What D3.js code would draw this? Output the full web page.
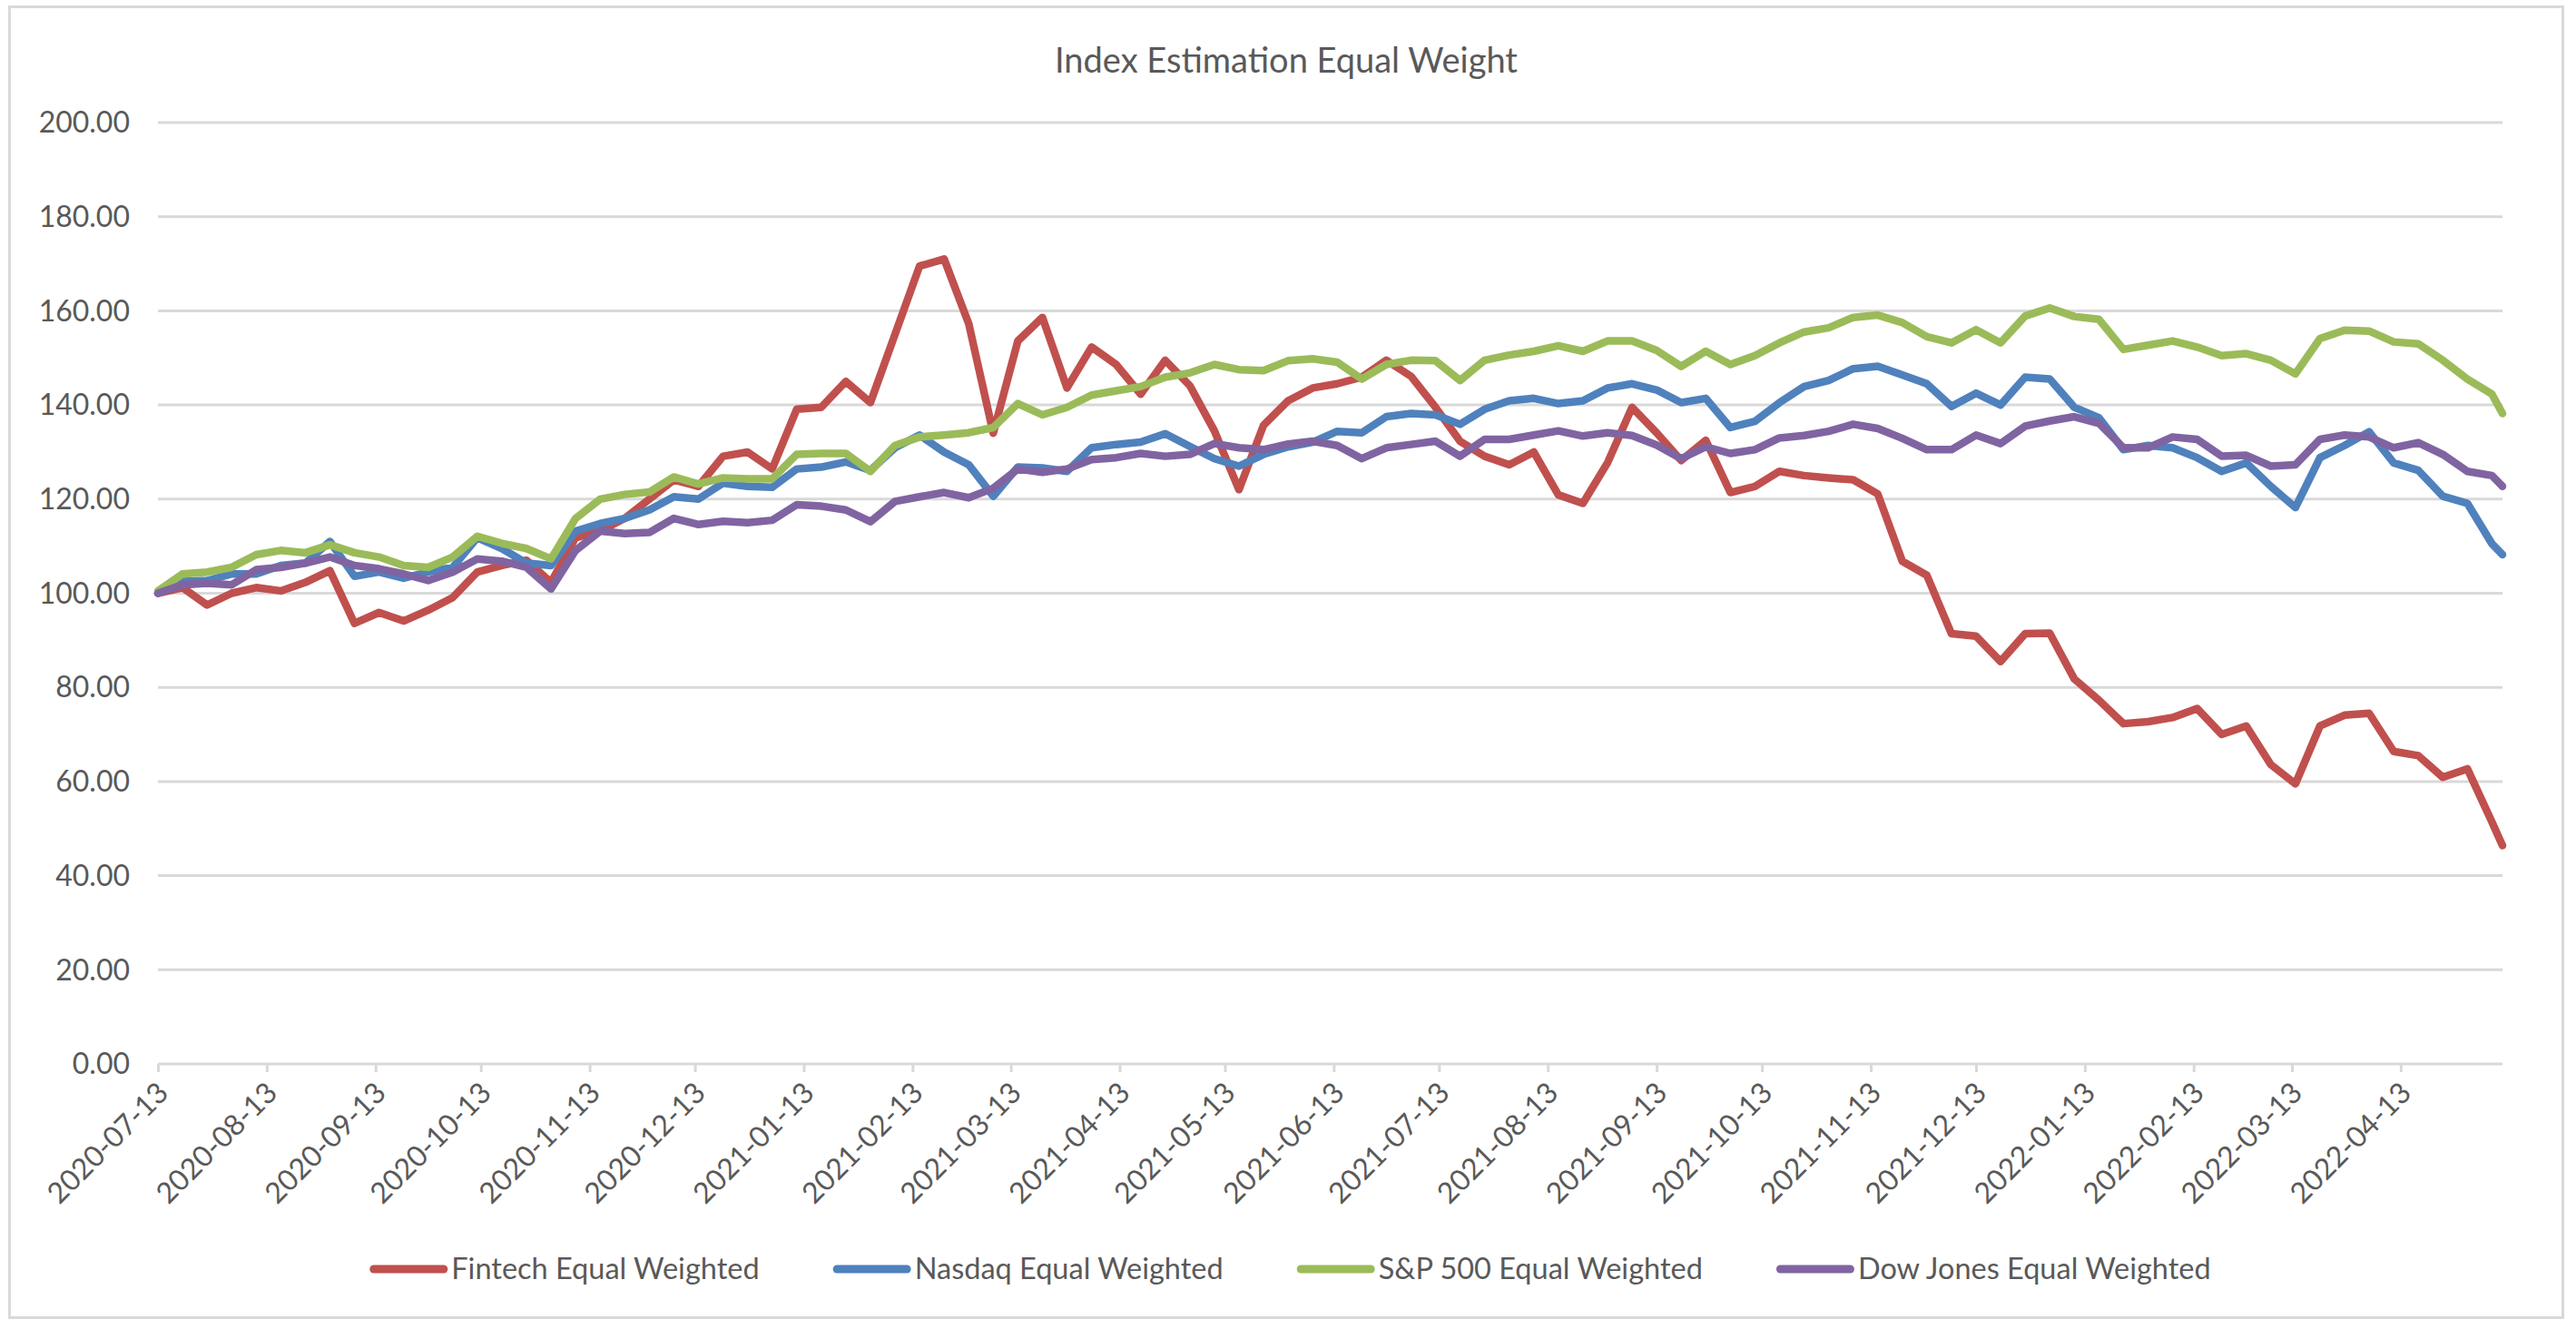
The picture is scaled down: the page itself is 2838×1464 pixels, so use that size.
<!DOCTYPE html>
<html>
<head>
<meta charset="utf-8">
<script src="https://cdnjs.cloudflare.com/ajax/libs/d3/7.8.5/d3.min.js"></script>
<style>
	body { margin: 0; background: #fff; }
	svg text { font-family: Lato, "Open Sans", sans-serif; fill: #595959; }
</style>
</head>
<body>
<svg width="2838" height="1464"></svg>
<script>
// weekly readings (Mondays from startDay), last value is the final trading day
var startDay = "2020-07-13"
var lastDay  = "2022-05-12"
var stepDays = 7

var seriesNames  = ["Fintech Equal Weighted", "Nasdaq Equal Weighted", "S&P 500 Equal Weighted", "Dow Jones Equal Weighted"]
var seriesColors = ["#C0504D", "#4F81BD", "#9BBB59", "#8064A2"]

var fintech = [
	100, 101.2, 97.5, 100, 101.2, 100.5, 102.3, 104.8, 93.6, 95.9, 94.1, 96.4, 99.1, 104.5, 105.9, 107, 102.3, 111.8, 113.2, 115.9,
	120, 124.1, 122.7, 129.1, 130, 126.4, 139.1, 139.5, 145, 140.5, 155, 169.5, 171, 157.3, 134, 153.6, 158.6, 143.6, 152.3,
	148.6, 142.3, 149.5, 144.1, 134.5, 122, 135.7, 140.9, 143.6, 144.5, 145.9, 149.5, 146.1, 139.5, 132.3, 129.1, 127.3, 130, 120.9,
	119.1, 127.7, 139.5, 134.1, 128.2, 132.5, 121.4, 122.7, 125.9, 125, 124.5, 124.1, 121.1, 106.8, 103.8, 91.4, 90.9, 85.5, 91.4,
	91.5, 81.8, 77.3, 72.3, 72.7, 73.6, 75.5, 70, 71.8, 63.6, 59.5, 71.8, 74.1, 74.5, 66.4, 65.5, 60.9, 62.7, 51.4,
	46.4
]
var nasdaq = [
	100, 102.5, 102.7, 104.1, 104.1, 105.9, 106.4, 111, 103.6, 104.5, 103.2, 104.5, 105.5, 111.8, 109.5, 106.4, 105.9, 113.2, 114.8, 115.9,
	117.7, 120.5, 120, 123.4, 122.7, 122.5, 126.4, 126.8, 127.9, 126.1, 130.9, 133.6, 130, 127.3, 120.6, 126.8, 126.6, 125.9, 130.9,
	131.6, 132.1, 133.9, 131.2, 128.6, 127, 129.5, 131.1, 132.1, 134.4, 134.1, 137.5, 138.2, 137.9, 135.9, 139.1, 140.9, 141.4, 140.3,
	140.9, 143.6, 144.5, 143.2, 140.5, 141.4, 135.2, 136.5, 140.5, 143.9, 145.2, 147.7, 148.2, 146.4, 144.5, 139.7, 142.5, 140, 145.9,
	145.5, 139.5, 137.3, 130.5, 131.4, 130.9, 128.8, 125.9, 127.7, 122.7, 118.2, 128.8, 131.4, 134.3, 127.7, 126.1, 120.6, 119.1, 110.5,
	108.2
]
var sp500 = [
	100.5, 104.1, 104.5, 105.5, 108.2, 109.1, 108.6, 110.3, 108.6, 107.7, 105.9, 105.5, 107.7, 112.1, 110.6, 109.5, 107.3, 115.9, 120, 121,
	121.5, 124.7, 123.2, 124.5, 124.3, 124.3, 129.5, 129.7, 129.7, 125.9, 131.4, 133.2, 133.6, 134.1, 135.2, 140.3, 137.9, 139.5, 142.1,
	143, 143.9, 145.9, 146.8, 148.6, 147.5, 147.3, 149.4, 149.8, 149.1, 145.5, 148.6, 149.5, 149.4, 145.2, 149.5, 150.6, 151.4, 152.6,
	151.4, 153.6, 153.6, 151.6, 148.2, 151.4, 148.6, 150.5, 153.2, 155.5, 156.4, 158.6, 159.1, 157.5, 154.5, 153.2, 156, 153.2, 158.9,
	160.6, 158.8, 158.2, 151.8, 152.7, 153.6, 152.3, 150.5, 150.9, 149.5, 146.6, 154.1, 155.9, 155.7, 153.4, 153, 149.5, 145.5, 142.3,
	138.2
]
var dowjones = [
	100, 101.8, 102.1, 101.8, 105, 105.5, 106.4, 107.7, 105.9, 105.2, 104.1, 102.7, 104.5, 107.3, 106.8, 105.5, 100.9, 109.1, 113.2, 112.7,
	112.9, 115.9, 114.6, 115.3, 115, 115.5, 118.8, 118.5, 117.7, 115.2, 119.5, 120.5, 121.4, 120.3, 122.3, 126.4, 125.7, 126.4, 128.4,
	128.8, 129.7, 129.1, 129.5, 131.8, 130.9, 130.5, 131.7, 132.3, 131.4, 128.6, 130.9, 131.6, 132.3, 129.1, 132.7, 132.7, 133.6, 134.5,
	133.4, 134.1, 133.5, 131.5, 128.6, 131.1, 129.7, 130.5, 133, 133.5, 134.4, 135.9, 135, 132.9, 130.5, 130.5, 133.6, 131.8, 135.5,
	136.6, 137.5, 136.1, 130.9, 130.9, 133.2, 132.7, 129.1, 129.3, 127, 127.3, 132.7, 133.6, 133.2, 130.9, 132, 129.5, 125.9, 125,
	122.7
]

var yTicks = [0, 20, 40, 60, 80, 100, 120, 140, 160, 180, 200]
var xTicks = ["2020-07-13", "2020-08-13", "2020-09-13", "2020-10-13", "2020-11-13", "2020-12-13",
	"2021-01-13", "2021-02-13", "2021-03-13", "2021-04-13", "2021-05-13", "2021-06-13",
	"2021-07-13", "2021-08-13", "2021-09-13", "2021-10-13", "2021-11-13", "2021-12-13",
	"2022-01-13", "2022-02-13", "2022-03-13", "2022-04-13"]

var parse = d3.timeParse("%Y-%m-%d")
var svg = d3.select("svg")

var plotLeft = 174, plotRight = 2757, plotTop = 135, plotBottom = 1172

var x = d3.scaleTime()
	.domain([parse(startDay), parse(lastDay)])
	.range([plotLeft, plotRight])
var y = d3.scaleLinear()
	.domain([0, 200])
	.range([plotBottom, plotTop])

var dates = fintech.map(function(d, i){
	return i < fintech.length - 1 ? d3.timeDay.offset(parse(startDay), i * stepDays) : parse(lastDay)
})
var allSeries = [fintech, nasdaq, sp500, dowjones]

// chart border
svg.append("rect")
	.attr("x", 10.5).attr("y", 7.5)
	.attr("width", 2813).attr("height", 1444)
	.attr("fill", "none")
	.attr("stroke", "#d9d9d9")
	.attr("stroke-width", 3)

svg.append("text")
	.attr("x", 1417)
	.attr("y", 67)
	.attr("dy", "0.35em")
	.attr("text-anchor", "middle")
	.style("font-size", "38px")
	.text("Index Estimation Equal Weight")

// horizontal gridlines + y labels
svg.append("g").selectAll("line")
		.data(yTicks)
	.enter().append("line")
		.attr("x1", plotLeft)
		.attr("x2", plotRight)
		.attr("y1", function(d){ return y(d) })
		.attr("y2", function(d){ return y(d) })
		.attr("stroke", "#d9d9d9")
		.attr("stroke-width", 3)

svg.append("g").selectAll("text")
		.data(yTicks)
	.enter().append("text")
		.attr("x", 143)
		.attr("y", function(d){ return y(d) })
		.attr("dy", "0.35em")
		.attr("text-anchor", "end")
		.style("font-size", "32px")
		.text(function(d){ return d3.format(".2f")(d) })

// date axis
var xAxis = svg.append("g")
	.attr("transform", "translate(0," + plotBottom + ")")
	.call(d3.axisBottom(x)
		.tickValues(xTicks.map(parse))
		.tickSize(9)
		.tickFormat(d3.timeFormat("%Y-%m-%d")))
xAxis.select(".domain").remove()
xAxis.selectAll(".tick line")
	.attr("stroke", "#d9d9d9")
	.attr("stroke-width", 3)
xAxis.selectAll(".tick text")
	.attr("x", 0)
	.attr("y", 0)
	.attr("dy", "0.35em")
	.attr("text-anchor", "end")
	.attr("transform", "translate(5,26) rotate(-45)")
	.style("font-size", "32px")
	.style("font-family", "Lato, 'Open Sans', sans-serif")
	.attr("fill", "#595959")

// series lines, first series drawn underneath
var line = d3.line()
	.x(function(d, i){ return x(dates[i]) })
	.y(function(d){ return y(d) })

svg.append("g").selectAll("path")
		.data(allSeries)
	.enter().append("path")
		.attr("d", function(d){ return line(d) })
		.attr("fill", "none")
		.attr("stroke", function(d, i){ return seriesColors[i] })
		.attr("stroke-width", 8.5)
		.attr("stroke-linejoin", "round")
		.attr("stroke-linecap", "round")

// legend
var legend = svg.append("g").attr("transform", "translate(0,1398)")
var items = legend.selectAll("g")
		.data(seriesNames)
	.enter().append("g")
items.append("line")
	.attr("x1", 4.5).attr("x2", 81.5)
	.attr("y1", 0).attr("y2", 0)
	.attr("stroke", function(d, i){ return seriesColors[i] })
	.attr("stroke-width", 9)
	.attr("stroke-linecap", "round")
items.append("text")
	.attr("x", 90)
	.attr("dy", "0.35em")
	.style("font-size", "32.5px")
	.text(function(d){ return d })

var widths = []
items.each(function(){ widths.push(90 + d3.select(this).select("text").node().getComputedTextLength()) })
var gap = 81
var total = d3.sum(widths) + gap * (widths.length - 1)
var cursor = 1421.5 - total / 2
items.attr("transform", function(d, i){
	var t = "translate(" + cursor + ",0)"
	cursor += widths[i] + gap
	return t
})
</script>
</body>
</html>
